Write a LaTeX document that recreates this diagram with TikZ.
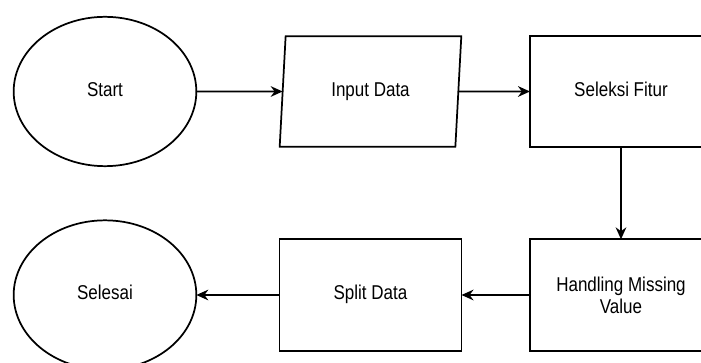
\documentclass[tikz,border=0pt]{standalone}
\usepackage{fontspec}
\newfontfamily\diafont[FakeStretch=0.85]{Liberation Sans}
\usetikzlibrary{shapes.geometric, arrows.meta}

\begin{document}
\begin{tikzpicture}[x=0.75pt, y=-0.75pt, line width=1.3pt,
  every node/.style={font=\diafont\fontsize{15}{16.3}\selectfont, align=center, inner sep=0pt, outer sep=0pt},
  oneline/.style={text height=0.72em, text depth=0em},
  term/.style={draw, ellipse, oneline, minimum width=137pt, minimum height=112pt},
  io/.style={draw, trapezium, oneline, trapezium left angle=74, trapezium right angle=106, trapezium stretches=true, minimum width=137pt, minimum height=83pt},
  proc/.style={draw, rectangle, minimum width=136.5pt, minimum height=83.5pt},
  flow/.style={-{Stealth[length=9pt, width=8pt]}}]
\useasboundingbox (0, 0) rectangle (701, 363);

\node[term] (start) at (105, 91.5) {Start};
\node[io] (input) at (370.5, 91.5) {Input Data};
\node[proc, oneline] (fitur) at (621, 91.5) {Seleksi Fitur};
\node[proc] (missing) at (621, 295) {Handling Missing\\Value};
\node[proc, oneline] (split) at (370.5, 295) {Split Data};
\node[term] (selesai) at (105, 295) {Selesai};

\draw[flow] (start) -- (input);
\draw[flow] (input) -- (fitur);
\draw[flow] (fitur) -- (missing);
\draw[flow] (missing) -- (split);
\draw[flow] (split) -- (selesai);
\end{tikzpicture}
\end{document}
